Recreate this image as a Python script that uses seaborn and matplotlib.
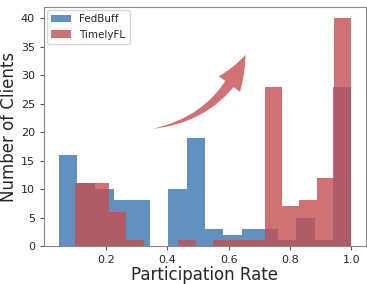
import numpy as np
import pandas as pd
import matplotlib
matplotlib.use("Agg")
import matplotlib.pyplot as plt
import seaborn as sns
from matplotlib.patches import FancyArrowPatch

# -------------------------------
# Data (counts per bin)
# -------------------------------
fedbuff_range = (0.045, 1.0)
fedbuff_counts = [16, 11, 10, 8, 8, 0, 10, 19, 3, 2, 3, 3, 1, 5, 1, 28]

timelyfl_range = (0.0967, 1.0)
timelyfl_counts = [11, 11, 6, 1, 0, 0, 1, 0, 1, 1, 1, 28, 7, 8, 12, 40]

labels = ["FedBuff", "TimelyFL"]
colors = ["#3b75af", "#c44e52"]

n_bins = 16

def bin_table(rng, counts, name):
    edges = np.linspace(rng[0], rng[1], n_bins + 1)
    centers = (edges[:-1] + edges[1:]) / 2
    return edges.tolist(), pd.DataFrame({"rate": centers, "count": counts, "method": name})

fb_edges, fb_df = bin_table(fedbuff_range, fedbuff_counts, labels[0])
tf_edges, tf_df = bin_table(timelyfl_range, timelyfl_counts, labels[1])

# -------------------------------
# Plot
# -------------------------------
sns.set_style("ticks")
plt.rcParams["font.family"] = ["DejaVu Sans"]

fig = plt.figure(figsize=(3.67, 2.84), dpi=100)
ax = fig.add_axes([0.12, 0.134, 0.877, 0.841])

sns.histplot(data=fb_df, x="rate", weights="count", bins=fb_edges,
             color=colors[0], alpha=0.8, linewidth=0, label=labels[0], ax=ax)
sns.histplot(data=tf_df, x="rate", weights="count", bins=tf_edges,
             color=colors[1], alpha=0.8, linewidth=0, label=labels[1], ax=ax)

ax.set_xlim(-0.003, 1.048)
ax.set_ylim(0, 42)
ax.set_xticks([0.2, 0.4, 0.6, 0.8, 1.0])
ax.set_yticks(range(0, 41, 5))
ax.tick_params(labelsize=8, length=3, color="#555555")
for s in ax.spines.values():
    s.set_color("#888888")
    s.set_linewidth(0.8)

ax.set_xlabel("Participation Rate", fontsize=12, labelpad=1)
ax.set_ylabel("Number of Clients", fontsize=12, labelpad=2)

ax.legend(loc="upper left", fontsize=7.5, frameon=True, handlelength=1.9,
          borderpad=0.4, labelspacing=0.5, borderaxespad=0.3)

# trend arrow: tapered body (wedge, drawn tip -> tail) + head
arrow_tail = (0.352, 20.6)
arrow_tip = (0.655, 33.6)
arrow_color = "#d07175"
body = FancyArrowPatch(arrow_tip, arrow_tail,
                       connectionstyle="arc3,rad=-0.28",
                       arrowstyle="wedge,tail_width=8,shrink_factor=0.5",
                       shrinkA=20, shrinkB=0,
                       color=arrow_color, lw=0)
head = FancyArrowPatch(arrow_tail, arrow_tip,
                       connectionstyle="arc3,rad=0.28",
                       arrowstyle="simple,head_length=24,head_width=19,tail_width=0.01",
                       shrinkA=0, shrinkB=0,
                       color=arrow_color, lw=0)
ax.add_patch(body)
ax.add_patch(head)

fig.savefig("out.png", dpi=100)
